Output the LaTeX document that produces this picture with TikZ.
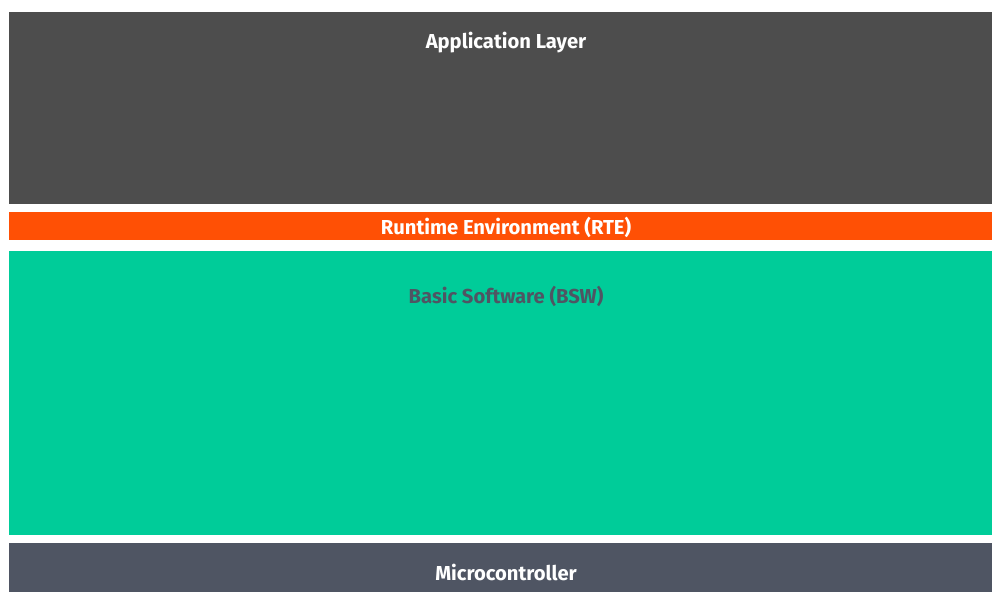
\documentclass[tikz,border=0pt]{standalone}
\usepackage{fontspec}
\setmainfont{Fira Sans}
\usepackage{tikz}
\usetikzlibrary{positioning}

\definecolor{appgray}{HTML}{4D4D4D}
\definecolor{rteorange}{HTML}{FF5005}
\definecolor{bswgreen}{HTML}{00CC99}
\definecolor{mcugray}{HTML}{4F5563}

\tikzset{
	layer/.style={rectangle,inner sep=0pt,outer sep=0pt,anchor=north west},
	layertext/.style={font=\fontsize{20.2}{24}\selectfont\bfseries,inner sep=0pt}
}

\begin{document}
\begin{tikzpicture}[x=1pt,y=-1pt]
		\useasboundingbox[fill=white] (0,0) rectangle (992,592);
		
		\node[layer,fill=appgray,minimum width=983pt,minimum height=192pt] (app) at (9,12){};
		\node[layer,fill=rteorange,minimum width=983pt,minimum height=28pt] (rte) at (9,212){};
		\node[layer,fill=bswgreen,minimum width=983pt,minimum height=284pt] (bsw) at (9,251){};
		\node[layer,fill=mcugray,minimum width=983pt,minimum height=49pt] (mcu) at (9,543){};
		
		\node[layertext,text=white] (apptext) at (506,42.5){Application Layer};
		\node[layertext,text=white] (rtetext) at (506,227){Runtime Environment (RTE)};
		\node[layertext,text=mcugray] (bswtext) at (506,296.5){Basic Software (BSW)};
		\node[layertext,text=white] (mcutext) at (506,572.5){Microcontroller};
		
\end{tikzpicture}
\end{document}
